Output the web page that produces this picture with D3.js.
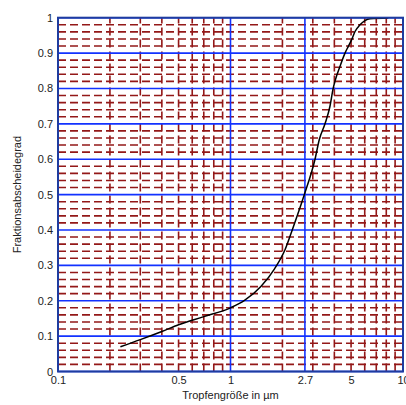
<!DOCTYPE html>
<html>
<head>
<meta charset="utf-8">
<script src="https://cdn.jsdelivr.net/npm/d3@7"></script>
<style>
  body { margin: 0; background: #fff; }
  text { font-family: "Liberation Sans", Arial, sans-serif; fill: #222; }
</style>
</head>
<body>
<svg class="chart-svg"></svg>
<script>
// droplet size (um) vs. fractional separation efficiency
const sizes = [0.23, 0.3, 0.4, 0.5, 0.7, 1.0, 1.2, 1.5, 1.8, 2.07, 2.28, 2.68, 3.09, 3.27, 3.53, 3.77, 3.94, 4.03, 4.31, 4.61, 4.82, 5.04, 5.27, 5.63, 6.02, 6.44, 8.22];
const efficiency = [0.07, 0.09, 0.113, 0.132, 0.155, 0.18, 0.2, 0.24, 0.29, 0.344, 0.4, 0.5, 0.6, 0.655, 0.7, 0.749, 0.801, 0.82, 0.862, 0.9, 0.919, 0.938, 0.961, 0.98, 0.992, 0.997, 0.999];

const xTicks = [0.1, 0.5, 1, 2.7, 5, 10];
const yTicks = [0, 0.1, 0.2, 0.3, 0.4, 0.5, 0.6, 0.7, 0.8, 0.9, 1];
const xMajorGrid = [1, 2.7];
const xMinorGrid = [0.2, 0.3, 0.4, 0.5, 0.6, 0.7, 0.8, 0.9, 2, 3, 4, 5, 6, 7, 8, 9];
const yMinorGrid = d3.range(1, 50).filter((i) => i % 5 !== 0).map((i) => i / 50);

const W = 406, H = 405;
const mLeft = 58, mRight = 403, mTop = 17.7, mBottom = 371.5;

const svg = d3.select(".chart-svg").attr("width", W).attr("height", H);

const x = d3.scaleLog().domain([0.1, 10]).range([mLeft, mRight]);
const y = d3.scaleLinear().domain([0, 1]).range([mBottom, mTop]);

// minor grid, dark red dashed
svg.append("g")
  .selectAll("line")
  .data(yMinorGrid)
  .enter()
  .append("line")
  .attr("x1", mLeft)
  .attr("x2", mRight)
  .attr("y1", (d) => y(d))
  .attr("y2", (d) => y(d))
  .attr("stroke", "#931818")
  .attr("stroke-width", 1.6)
  .attr("stroke-dasharray", "8,4");

svg.append("g")
  .selectAll("line")
  .data(xMinorGrid)
  .enter()
  .append("line")
  .attr("x1", (d) => x(d))
  .attr("x2", (d) => x(d))
  .attr("y1", mBottom)
  .attr("y2", mTop)
  .attr("stroke", "#931818")
  .attr("stroke-width", 1.6)
  .attr("stroke-dasharray", "8,4");

// major grid, blue
svg.append("g")
  .selectAll("line")
  .data(yTicks)
  .enter()
  .append("line")
  .attr("x1", mLeft)
  .attr("x2", mRight)
  .attr("y1", (d) => y(d))
  .attr("y2", (d) => y(d))
  .attr("stroke", "#1232ff")
  .attr("stroke-width", 1.6);

svg.append("g")
  .selectAll("line")
  .data(xMajorGrid)
  .enter()
  .append("line")
  .attr("x1", (d) => x(d))
  .attr("x2", (d) => x(d))
  .attr("y1", mBottom)
  .attr("y2", mTop)
  .attr("stroke", "#1232ff")
  .attr("stroke-width", 1.6);

// curve
const line = d3.line()
  .x((d, i) => x(sizes[i]))
  .y((d) => y(d))
  .curve(d3.curveMonotoneX);

svg.append("path")
  .datum(efficiency)
  .attr("d", line)
  .attr("fill", "none")
  .attr("stroke", "#000")
  .attr("stroke-width", 1.5);

// box
svg.append("rect")
  .attr("x", mLeft)
  .attr("y", mTop)
  .attr("width", mRight - mLeft)
  .attr("height", mBottom - mTop)
  .attr("fill", "none")
  .attr("stroke", "#1e3ca0")
  .attr("stroke-width", 2);

// axes
const yAxis = svg.append("g")
  .attr("transform", "translate(" + mLeft + ",0)")
  .call(d3.axisLeft(y).tickValues(yTicks).tickSize(0).tickPadding(5).tickFormat((d) => d3.format("~g")(d)));
yAxis.select(".domain").remove();
yAxis.selectAll("text").style("font-size", "11px").attr("fill", "#222");

const xAxis = svg.append("g")
  .attr("transform", "translate(0," + mBottom + ")")
  .call(d3.axisBottom(x).tickValues(xTicks).tickSize(0).tickPadding(5).tickFormat((d) => d3.format("~g")(d)));
xAxis.select(".domain").remove();
xAxis.selectAll("text").style("font-size", "11px").attr("fill", "#222");

svg.append("text")
  .attr("x", (mLeft + mRight) / 2)
  .attr("y", 399)
  .attr("text-anchor", "middle")
  .style("font-size", "11px")
  .text("Tropfengröße in µm");

svg.append("text")
  .attr("transform", "rotate(-90)")
  .attr("x", -(mTop + mBottom) / 2)
  .attr("y", 21)
  .attr("text-anchor", "middle")
  .style("font-size", "11px")
  .text("Fraktionsabscheidegrad");
</script>
</body>
</html>
